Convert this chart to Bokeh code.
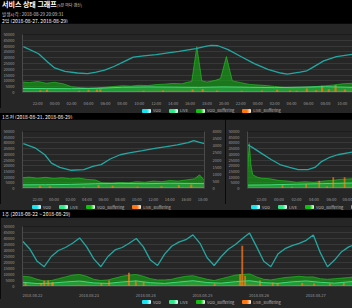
from bokeh.plotting import figure
from bokeh.models import Range1d, LinearAxis, FixedTicker, Div
from bokeh.layouts import column, row
from bokeh.embed import file_html
from bokeh.resources import INLINE

FONT = "Noto Sans CJK KR"
PANEL = "#262626"
GRID = "#383838"
AXIS = "#4a4a4a"
TXT = "#9a9a9a"
C_VOD = "#22a8a2"
C_VOD_LEG = "#19e3ee"
C_LIVE = "#45d97a"
C_LIVE_LEG = "#2ee88a"
C_VB = "#16ac16"
C_VB_LINE = "#22c822"
C_VB_LEG = "#12c012"
C_LB = "#ff7711"

SERIES = ["VOD", "LIVE", "VOD_Buffering", "LIVE_Buffering"]
SERIES_COLORS = [C_VOD_LEG, C_LIVE_LEG, C_VB_LEG, C_LB]

TITLE = "서비스 상태 그래프"
SUBTITLE = "(5분 마다 갱신)"
TIME_LINE = "발생시각 : 2018-08-29 20:09:31"
SEC1 = "2일 (2018-08-27, 2018-08-29)"
SEC2 = "1주전 (2018-08-21, 2018-08-29)"
SEC3 = "1주 (2018-08-22 ~ 2018-08-29)"

y_ticks = [0, 5000, 10000, 15000, 20000, 25000, 30000, 35000, 40000, 45000, 50000]
r_ticks = [0, 500, 1000, 1500, 2000, 2500, 3000, 3500, 4000]

# ---------- panel 1 : 2일 ----------
top_ticks = [22, 24, 26, 28, 30, 32, 34, 36, 38, 40, 42, 44, 46, 48, 50, 52, 54, 56, 58]
top_tick_labels = ["22:00", "00:00", "02:00", "04:00", "06:00", "08:00", "10:00", "12:00", "14:00", "16:00",
                   "18:00", "20:00", "22:00", "00:00", "02:00", "04:00", "06:00", "08:00", "10:00"]
top_vod_t = [20.3, 22.1, 23.2, 24.0, 25.2, 26.7, 27.9, 28.9, 29.9, 31.0, 32.2, 33.3, 34.5, 36.0, 37.6, 38.7,
             40.7, 41.8, 42.5, 43.3, 44.5, 46.0, 47.6, 49.2, 50.7, 51.5, 53.0, 53.8, 54.4, 55.8, 57.3, 59.2]
top_vod = [39500, 33400, 26000, 21200, 18300, 16800, 16300, 17600, 19200, 22400, 26600, 30500, 31500, 32600,
           34400, 35400, 37800, 39700, 40700, 40300, 37000, 31000, 24900, 20000, 16800, 15800, 17600, 18700,
           21200, 27300, 31000, 32900]
top_vb_t = [20.2, 21, 22, 23, 24, 25, 26, 27, 28, 29, 30, 31, 32, 33, 34, 35, 36, 37, 38, 39, 39.8, 40.2, 40.8,
            41.4, 42, 43, 43.6, 44.3, 45, 46, 47, 48, 49, 50, 51, 52, 53, 54, 55, 56, 57, 58, 59.2]
top_vb = [9000, 8500, 9500, 8000, 8800, 7500, 5000, 4200, 3800, 4000, 4500, 5200, 5800, 5500, 6200, 6000, 6800,
          7200, 7800, 7500, 9000, 9500, 39500, 10000, 9000, 10500, 12000, 31000, 10000, 8500, 7000, 6500, 6000,
          5200, 4500, 4000, 4200, 4500, 5200, 5800, 6500, 7500, 8000]
top_live_t = [20.2, 23, 26, 29, 32, 35, 38, 41, 44, 47, 50, 53, 56, 59.2]
top_live = [3500, 3400, 3300, 3600, 4500, 4800, 4600, 4400, 4800, 4500, 4200, 4600, 5000, 4400]
top_lb_t = [20.2, 26, 32, 38, 44, 50, 56, 59.2]
top_lb = [1200, 1000, 1400, 1600, 1300, 1200, 1500, 1400]
top_lbs_t = [22.3, 23.1, 26.9, 28.0, 29.0, 29.4, 34.5, 36.8, 40.3, 41.5, 43.2, 46.1, 48.5, 50.3, 51.8, 52.6,
             53.8, 54.9, 55.6, 56.4, 57.2, 58.3]
top_lbs = [2000, 2500, 1500, 2300, 2500, 2800, 1500, 1800, 2500, 3000, 1800, 1500, 1800, 2300, 1800, 1500,
           3500, 2000, 5800, 3000, 6500, 2500]

# ---------- panel 2 : 1주전 left ----------
ml_ticks = [22, 24, 26, 28, 30, 32, 34, 36, 38, 40, 42]
ml_tick_labels = ["22:00", "00:00", "02:00", "04:00", "06:00", "08:00", "10:00", "12:00", "14:00", "16:00", "18:00"]
ml_vod_t = [20.3, 21.7, 22.9, 23.7, 24.7, 26.1, 27.6, 28.8, 29.7, 30.8, 32.0, 33.1, 34.7, 36.2, 37.8, 38.9,
            40.2, 40.9, 41.5, 42.2]
ml_vod = [39400, 35700, 29600, 22200, 18500, 16000, 16500, 19700, 20900, 25900, 29600, 31300, 33300, 35200,
          37000, 38200, 40200, 41900, 40700, 39400]
ml_vb_t = [20.2, 21, 22, 23, 24, 25, 26, 27, 28, 29, 29.8, 31, 32, 33, 34, 35, 36, 37, 38, 39, 40, 41, 41.6, 42.2]
ml_vb = [9500, 10000, 9000, 9800, 8800, 9500, 8500, 9200, 8000, 7500, 5000, 4800, 5200, 5000, 6000, 5500, 6500,
         6000, 7000, 6500, 7500, 8500, 12000, 7000]
ml_live_t = [20.2, 23, 26, 29, 32, 35, 38, 42.2]
ml_live = [3200, 3300, 3600, 4200, 4500, 4200, 4600, 4300]
ml_lb_t = [20.2, 26, 32, 38, 42.2]
ml_lb = [1300, 1000, 1500, 1400, 1600]
ml_lbs_t = [22.3, 23.5, 27.6, 29.4, 31.1, 34.1, 37.0, 39.1, 40.6]
ml_lbs = [2500, 2000, 1500, 3000, 2500, 1800, 2000, 3000, 3500]

# ---------- panel 3 : 1주전 right ----------
mr_ticks = [22, 24, 26, 28, 30, 32]
mr_tick_labels = ["22:00", "00:00", "02:00", "04:00", "06:00", "08:00"]
mr_vod_t = [20.4, 20.9, 22.0, 23.1, 24.1, 25.2, 26.2, 27.3, 28.1, 28.4, 28.8, 29.7, 30.7, 32.4]
mr_vod = [38200, 36300, 30800, 25400, 21000, 18500, 16500, 16500, 18500, 20400, 23300, 27000, 29600, 32000]
mr_vb_t = [20.4, 20.6, 20.8, 21.0, 21.5, 22, 23, 24, 25, 26, 27, 28, 29, 30, 31, 32.4]
mr_vb = [15000, 39400, 20000, 12000, 10000, 9000, 8500, 7000, 6500, 5500, 6000, 5500, 6500, 7000, 8000, 8500]
mr_live_t = [20.4, 23, 26, 29, 32.4]
mr_live = [3000, 3200, 3800, 4300, 4800]
mr_lb_t = [20.4, 26, 32.4]
mr_lb = [1000, 1200, 1500]
mr_lbs_t = [24.4, 25.5, 27.1, 28.6, 29.5, 30.2, 31.5]
mr_lbs = [3900, 1500, 3900, 6700, 2000, 9800, 9800]

# ---------- panel 4 : 1주 ----------
bt_ticks = [0, 24, 48, 72, 96, 120]
bt_tick_labels = ["2018.08.22", "2018.08.23", "2018.08.24", "2018.08.25", "2018.08.26", "2018.08.27"]
bt_t = [-4, -1, 2, 5, 8, 11, 14, 17, 20, 23, 26, 29, 32, 35, 38, 41, 44, 47, 50, 53, 56, 59, 62, 65, 68, 71,
        74, 77, 80, 83, 86, 89, 92, 95, 98, 101, 104, 107, 110, 113, 116, 119, 122, 125, 128, 131, 134, 136]
bt_vod = [37500, 31000, 21000, 16500, 25000, 30000, 32500, 36000, 40500, 33000, 23000, 16500, 25000, 30500,
          32500, 36000, 40000, 33000, 22000, 17500, 27000, 33500, 37000, 39000, 43000, 36000, 24000, 17500,
          25000, 31000, 35000, 40000, 44500, 33000, 21000, 16500, 27000, 31500, 34000, 36000, 38500, 43000,
          28000, 16500, 22000, 29000, 33000, 34500]
bt_vb = [8500, 8000, 6000, 4500, 5000, 6500, 8000, 9500, 10000, 8500, 6000, 5000, 5500, 7000, 8500, 9500,
         10000, 8500, 6500, 5500, 5500, 6000, 7500, 8500, 9000, 7500, 6000, 5000, 6500, 8000, 9500, 10000,
         10500, 8000, 6000, 5500, 6500, 7500, 8000, 8500, 8000, 8000, 6500, 6000, 6500, 7000, 7500, 8000]
bt_live_t = [-4, 2, 8, 14, 20, 26, 32, 38, 44, 50, 56, 62, 68, 74, 80, 86, 92, 98, 104, 110, 116, 122, 128, 134, 136]
bt_live = [3500, 2500, 2800, 3800, 4500, 3000, 2600, 3800, 4600, 3200, 2600, 3700, 4800, 3300, 2800, 4000,
           4800, 3200, 2700, 3900, 4600, 3500, 2800, 3900, 4100]
bt_lb_t = [-4, 8, 20, 32, 44, 56, 68, 80, 92, 104, 116, 128, 136]
bt_lb = [1200, 900, 1500, 1000, 1500, 900, 1500, 1000, 1600, 900, 1400, 1000, 1300]
bt_lbs_t = [-2.9, 3.7, 5.0, 6.7, 8.3, 8.7, 29.2, 32.5, 40.9, 43.8, 47.1, 77.2, 88.0, 88.9, 90.1, 96.4, 101.8,
            103.9, 114.3, 119.3, 126.0, 131.9]
bt_lbs = [3400, 2400, 4900, 4900, 3400, 3800, 2900, 4900, 11500, 4900, 3800, 2400, 10300, 34000, 9000, 4900,
          3400, 2900, 2900, 2400, 2400, 3400]


def style_axis(ax, standoff=2):
    ax.major_label_text_font_size = "4px"
    ax.major_label_text_color = TXT
    ax.major_label_text_font = FONT
    ax.major_tick_line_color = None
    ax.minor_tick_line_color = None
    ax.axis_line_color = AXIS
    ax.major_label_standoff = standoff


def panel(width, height, xr, borders, vod_t, vod, vb_t, vb, live_t, live, lb_t, lb, lbs_t, lbs, bar_w,
          ticks, tick_labels, right_axis=False):
    l, r, t, b = borders
    p = figure(width=width, height=height, x_range=Range1d(*xr), y_range=Range1d(0, 50000),
               output_backend="svg", toolbar_location=None,
               min_border_left=l, min_border_right=r, min_border_top=t, min_border_bottom=b,
               background_fill_color=PANEL, border_fill_color=PANEL, outline_line_color=None)
    p.varea(x=vb_t, y1=0, y2=vb, fill_color=C_VB, fill_alpha=0.6)
    p.line(vb_t, vb, line_color=C_VB_LINE, line_width=0.8, line_alpha=0.8)
    p.varea(x=live_t, y1=0, y2=live, fill_color="#33ee77", fill_alpha=0.3)
    p.varea(x=lb_t, y1=0, y2=lb, fill_color=C_LB, fill_alpha=0.5)
    p.vbar(x=lbs_t, top=lbs, width=bar_w, fill_color=C_LB, fill_alpha=0.75, line_color=None)
    p.line(live_t, live, line_color=C_LIVE, line_width=1)
    p.line(vod_t, vod, line_color=C_VOD, line_width=1.3)

    p.xgrid.visible = False
    p.ygrid.grid_line_color = GRID
    p.ygrid.grid_line_width = 1
    p.yaxis.ticker = FixedTicker(ticks=y_ticks)
    p.xaxis.ticker = FixedTicker(ticks=ticks)
    p.xaxis.major_label_overrides = {tk: lab for tk, lab in zip(ticks, tick_labels)}
    style_axis(p.yaxis[0])
    style_axis(p.xaxis[0], standoff=1)
    p.xaxis.axis_line_color = GRID

    if right_axis:
        p.extra_y_ranges = {"r": Range1d(0, 4000)}
        ra = LinearAxis(y_range_name="r", ticker=FixedTicker(ticks=r_ticks))
        style_axis(ra)
        p.add_layout(ra, "right")
    return p


def legend_html(left, top):
    items = []
    for name, c in zip(SERIES, SERIES_COLORS):
        items.append(
            '<span style="display:flex;align-items:center;margin-right:8px;height:5px;">'
            f'<span style="display:block;width:9px;height:4px;border-radius:1px;'
            f'background:linear-gradient(to right,{c} 55%,#ffffff);margin-right:2px;"></span>'
            f'<span style="display:block;font-size:4px;line-height:5px;color:#bbbbbb;">{name}</span></span>')
    return (f'<div style="position:absolute;left:{left}px;top:{top}px;height:5px;display:flex;'
            f'white-space:nowrap;">' + "".join(items) + '</div>')


def text_html(x, y, s, size, color, weight="normal"):
    return (f'<span style="position:absolute;left:{x}px;top:{y}px;font-size:{size};line-height:1;'
            f'color:{color};font-weight:{weight};white-space:nowrap;">{s}</span>')


def rect_html(x, y, w, h, color):
    return f'<div style="position:absolute;left:{x}px;top:{y}px;width:{w}px;height:{h}px;background:{color};"></div>'


def strip(height, parts):
    html = (f'<div style="position:relative;display:block;width:352px;height:{height}px;overflow:hidden;'
            f'background:black;font-family:\'{FONT}\';">' + "".join(parts) + '</div>')
    return Div(text=html, width=352, height=height, margin=0,
               styles={"background-color": "black", "overflow": "hidden", "line-height": "0"})


hdr = strip(23, [text_html(2, 1, TITLE, "7px", "white", "bold"),
                 text_html(57, 2.5, SUBTITLE, "4px", "#cccccc"),
                 text_html(2, 11.5, TIME_LINE, "4.5px", "#cccccc"),
                 text_html(2, 17.5, SEC1, "5px", "white")])

p_top = panel(352, 85, (20.2, 59.2), (17, 0, 11, 6), top_vod_t, top_vod, top_vb_t, top_vb, top_live_t,
              top_live, top_lb_t, top_lb, top_lbs_t, top_lbs, 0.25, top_ticks, top_tick_labels)

# legend of panel 1 (gray, 5px) + section label (black, 6px)
s_a = strip(11, [rect_html(0, 0, 352, 5, PANEL), legend_html(142, 0),
                 text_html(2, 5.5, SEC2, "5px", "white")])

p_ml = panel(225, 85, (20.2, 42.2), (17, 21, 12, 6), ml_vod_t, ml_vod, ml_vb_t, ml_vb, ml_live_t, ml_live,
             ml_lb_t, ml_lb, ml_lbs_t, ml_lbs, 0.25, ml_ticks, ml_tick_labels, right_axis=True)
p_mr = panel(127, 85, (20.4, 32.4), (13, 0, 12, 6), mr_vod_t, mr_vod, mr_vb_t, mr_vb, mr_live_t, mr_live,
             mr_lb_t, mr_lb, mr_lbs_t, mr_lbs, 0.2, mr_ticks, mr_tick_labels)

# legends of the two middle panels (gray, 6px) + section label (black, 7px)
s_b = strip(13, [rect_html(0, 0, 352, 6, PANEL), legend_html(32, 0.5),
                 '<div style="position:absolute;left:225px;top:0;width:127px;height:6px;overflow:hidden;'
                 f'background:{PANEL};">' + legend_html(26, 0.5) + '</div>',
                 text_html(2, 7, SEC3, "5px", "white")])

p_bt = panel(352, 82, (-4.2, 135.6), (17, 0, 9, 5), bt_t, bt_vod, bt_t, bt_vb, bt_live_t, bt_live,
             bt_lb_t, bt_lb, bt_lbs_t, bt_lbs, 0.8, bt_ticks, bt_tick_labels)

s_c = strip(9, [rect_html(0, 0, 352, 9, PANEL), legend_html(142, 0.5)])

layout = column(hdr, p_top, s_a, row(p_ml, p_mr, spacing=0), s_b, p_bt, s_c, spacing=0,
                styles={"background-color": "black"})

open("out.html", "w").write(file_html(layout, INLINE))
